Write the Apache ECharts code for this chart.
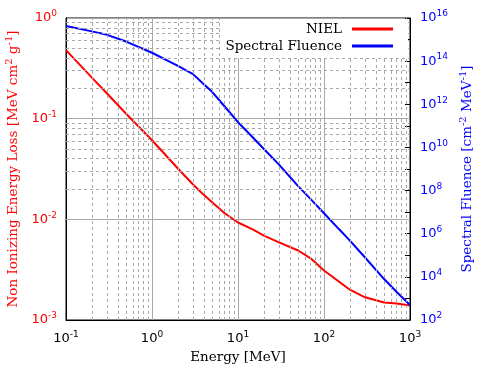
<!DOCTYPE html>
<html>
<head>
<meta charset="utf-8">
<script src="https://cdn.jsdelivr.net/npm/echarts@6/dist/echarts.min.js"></script>
<style>
  html, body { margin: 0; padding: 0; background: #fff; }
  #chart { width: 500px; height: 375px; }
</style>
</head>
<body>
<div id="chart"></div>
<script>
// energy points [MeV]
var energy = [0.1, 0.2, 0.3, 0.5, 1, 2, 3, 4, 5, 7, 10, 15, 20, 30, 50, 70, 100, 150, 200, 300, 500, 700, 1000];
// NIEL [MeV cm2 g-1]
var niel = [0.48, 0.256, 0.178, 0.112, 0.061, 0.032, 0.0222, 0.0175, 0.0148, 0.0115, 0.0093, 0.0079, 0.0069, 0.0059,
  0.0049, 0.0041, 0.0031, 0.0024, 0.0020, 0.00168, 0.00149, 0.00146, 0.00139];
// spectral fluence [cm-2 MeV-1]
var fluence = [4.3e15, 2.4e15, 1.66e15, 8.1e14, 2.45e14, 6.0e13, 2.5e13, 8.5e12, 3.8e12, 7.9e11, 1.48e11, 2.8e10,
  8.5e9, 1.6e9, 1.6e8, 4.0e7, 8.9e6, 1.6e6, 4.8e5, 7.9e4, 7.9e3, 2.0e3, 5.0e2];

var seriesNames = ['NIEL', 'Spectral Fluence'];

var nielData = [];
var fluData = [];
for (var i = 0; i < energy.length; i++) {
  nielData.push([energy[i], niel[i]]);
  fluData.push([energy[i], fluence[i]]);
}

// minor (dashed) grid lines at 2..9 x 10^n
var minorX = [];
var minorY = [];
for (var d = -1; d <= 2; d++) {
  for (var m = 2; m <= 9; m++) minorX.push({ xAxis: m * Math.pow(10, d) });
}
for (var d2 = -3; d2 <= -1; d2++) {
  for (var m2 = 2; m2 <= 9; m2++) minorY.push({ yAxis: +(m2 * Math.pow(10, d2)).toPrecision(3) });
}

function pow10(v) {
  var e = Math.round(Math.log(v) / Math.LN10);
  return '{b|10}{s|' + e + '}';
}
function pow10even(v) {
  var e = Math.round(Math.log(v) / Math.LN10);
  if (e % 2 !== 0) return '';
  return '{b|10}{s|' + e + '}';
}

var tickRich = {
  b: { fontSize: 13, fontFamily: 'DejaVu Sans' },
  s: { fontSize: 9, fontFamily: 'DejaVu Sans', verticalAlign: 'bottom', padding: [0, 0, 8, 0] }
};
var nameRich = {
  t: { fontSize: 13.5, fontFamily: 'DejaVu Serif' },
  s: { fontSize: 10, fontFamily: 'DejaVu Serif', verticalAlign: 'bottom', padding: [0, 0, 8, 0] }
};

var gridColor = '#a8a8a8';

var myChart = echarts.init(document.getElementById('chart'));

var option = {
  animation: false,
  backgroundColor: '#fff',
  grid: {
    left: 66, right: 90, top: 18, bottom: 55, show: true, borderColor: '#000', borderWidth: 1,
    containLabel: false, outerBoundsMode: 'none'
  },
  graphic: [{
    type: 'rect', z: 10, silent: true,
    shape: { x: 221, y: 19, width: 187, height: 39 },
    style: { fill: '#fff' }
  }],
  legend: [{
    data: [seriesNames[0]], right: 102, top: 17, z: 20,
    align: 'right', icon: 'rect', itemWidth: 41, itemHeight: 3,
    textStyle: { fontFamily: 'DejaVu Serif', fontSize: 13.5, color: '#000', padding: [0, 5, 0, 0] }
  }, {
    data: [seriesNames[1]], right: 102, top: 34, z: 20,
    align: 'right', icon: 'rect', itemWidth: 41, itemHeight: 3,
    textStyle: { fontFamily: 'DejaVu Serif', fontSize: 13.5, color: '#000', padding: [0, 5, 0, 0] }
  }],
  xAxis: {
    type: 'log', logBase: 10, min: 0.1, max: 1000, interval: 1, splitNumber: 4,
    name: '{t|Energy [MeV]}', nameLocation: 'middle', nameGap: 30,
    nameTextStyle: { color: '#000', rich: nameRich },
    axisLine: { lineStyle: { color: '#000' } },
    axisTick: { show: false },
    axisLabel: { color: '#000', margin: 10, formatter: pow10, rich: tickRich },
    splitLine: { show: true, lineStyle: { color: gridColor, width: 1 } }
  },
  yAxis: [{
    type: 'log', logBase: 10, min: 0.001, max: 1, interval: 1, splitNumber: 3,
    name: '{t|Non Ionizing Energy Loss [MeV cm}{s|2}{t| g}{s|-1}{t|]}',
    nameLocation: 'middle', nameRotate: 90, nameGap: 44,
    nameTextStyle: { color: '#ff0000', rich: nameRich },
    axisLine: { lineStyle: { color: '#000' } },
    axisTick: { show: false },
    axisLabel: { color: '#ff0000', margin: 9, formatter: pow10, rich: tickRich },
    splitLine: { show: true, lineStyle: { color: gridColor, width: 1 } }
  }, {
    type: 'log', logBase: 10, min: 1e2, max: 1e16, interval: 1, splitNumber: 14,
    position: 'right',
    name: '{t|Spectral Fluence [cm}{s|-2}{t| MeV}{s|-1}{t|]}',
    nameLocation: 'middle', nameRotate: 90, nameGap: 46,
    nameTextStyle: { color: '#0000ff', rich: nameRich },
    axisLine: { show: true, lineStyle: { color: '#000' } },
    axisTick: { show: true, inside: true, length: 5, lineStyle: { color: '#000' } },
    axisLabel: { color: '#0000ff', margin: 10, formatter: pow10even, rich: tickRich },
    splitLine: { show: false }
  }],
  series: [{
    name: 'grid-minor', type: 'line', data: [], z: 1, silent: true,
    markLine: {
      silent: true, symbol: ['none', 'none'], label: { show: false },
      lineStyle: { color: gridColor, type: [3, 3], width: 1 },
      emphasis: { disabled: true },
      data: minorX.concat(minorY)
    }
  }, {
    name: seriesNames[0], type: 'line', yAxisIndex: 0, data: nielData, z: 3,
    showSymbol: false, smooth: false, color: '#ff0000',
    lineStyle: { color: '#ff0000', width: 2 }
  }, {
    name: seriesNames[1], type: 'line', yAxisIndex: 1, data: fluData, z: 3,
    showSymbol: false, smooth: false, color: '#0000ff',
    lineStyle: { color: '#0000ff', width: 2 }
  }]
};

myChart.setOption(option);
</script>
</body>
</html>
